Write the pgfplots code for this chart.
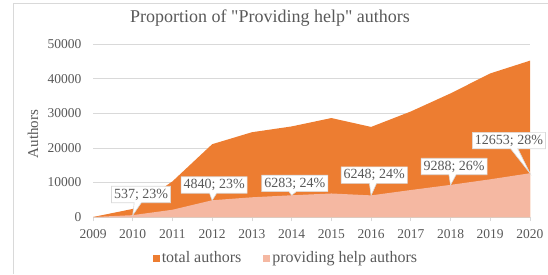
\documentclass[border=0pt]{standalone}
\usepackage{pgfplots}
\pgfplotsset{compat=1.18}
\usepackage{fontspec}
\setmainfont{Liberation Serif}
\usetikzlibrary{shapes.callouts}
\definecolor{tot}{HTML}{ED7D31}
\definecolor{hlp}{HTML}{F5B8A2}
\definecolor{txt}{HTML}{595959}
\definecolor{grd}{HTML}{D9D9D9}
\begin{document}
\begin{tikzpicture}[x=1pt,y=1pt]
\path[use as bounding box] (0,0) rectangle (548,274);
\draw[grd,line width=0.6pt] (13,0) -- (13,271) -- (548,271);
\node[txt,font=\fontsize{18}{20}\selectfont] at (270,256) {Proportion of \textquotedbl Providing help\textquotedbl{} authors};
\node[txt,rotate=90,font=\fontsize{15}{17}\selectfont] at (33,140) {Authors};
\begin{axis}[
  at={(93pt,57pt)}, anchor=south west, scale only axis,
  width=437pt, height=173pt,
  xmin=2009, xmax=2020, ymin=0, ymax=50000,
  xtick={2009,...,2020}, ytick={0,10000,...,50000},
  scaled ticks=false,
  /pgf/number format/1000 sep={},
  /pgf/number format/assume math mode=true,
  tick label style={txt,font=\fontsize{13.5}{15}\selectfont},
  ymajorgrids, grid style={grd,line width=0.6pt},
  axis x line*=bottom, axis y line*=left,
  y axis line style={draw=none},
  x axis line style={grd,line width=0.6pt,-},
  xtick style={grd,line width=0.6pt},
  xtick align=outside, major tick length=4pt,
  ytick style={draw=none},
  yticklabel style={xshift=-8pt},
  xticklabel style={yshift=-5pt},
  clip=false,
  legend style={at={(286pt-93pt,16pt-57pt)},anchor=center,draw=none,fill=none,
    legend columns=2, font=\fontsize{16}{18}\selectfont, text=txt,
    /tikz/every even column/.append style={column sep=20pt}},
  legend image code/.code={\fill[#1] (0pt,-3.5pt) rectangle (7pt,3.5pt);},
]
\addplot[draw=none,fill=tot] coordinates {
(2009,0) (2010,2335) (2011,10300) (2012,21043) (2013,24500) (2014,26179)
(2015,28600) (2016,26033) (2017,30500) (2018,35723) (2019,41500) (2020,45189)
} \closedcycle;
\addlegendentry{total authors}
\addplot[draw=none,fill=hlp] coordinates {
(2009,0) (2010,537) (2011,2100) (2012,4840) (2013,5700) (2014,6283)
(2015,6800) (2016,6248) (2017,7800) (2018,9288) (2019,10900) (2020,12653)
} \closedcycle;
\addlegendentry{providing help authors}
\tikzset{lab/.style={rectangle callout,draw=grd,fill=white,text=txt,
  font=\fontsize{14}{16}\selectfont,inner sep=2.5pt,line width=0.6pt}}
\node[lab,callout absolute pointer={(axis cs:2010,537)}] at (axis cs:2010.21,6500) {537; 23\%};
\node[lab,callout absolute pointer={(axis cs:2012,4840)}] at (axis cs:2012.05,9250) {4840; 23\%};
\node[lab,callout absolute pointer={(axis cs:2014,6283)}] at (axis cs:2014.08,9700) {6283; 24\%};
\node[lab,callout absolute pointer={(axis cs:2016,6248)}] at (axis cs:2016.08,12100) {6248; 24\%};
\node[lab,callout absolute pointer={(axis cs:2018,9288)}] at (axis cs:2018.09,14600) {9288; 26\%};
\node[lab,callout absolute pointer={(axis cs:2020,12653)}] at (axis cs:2019.47,22100) {12653; 28\%};
\end{axis}
\end{tikzpicture}
\end{document}
